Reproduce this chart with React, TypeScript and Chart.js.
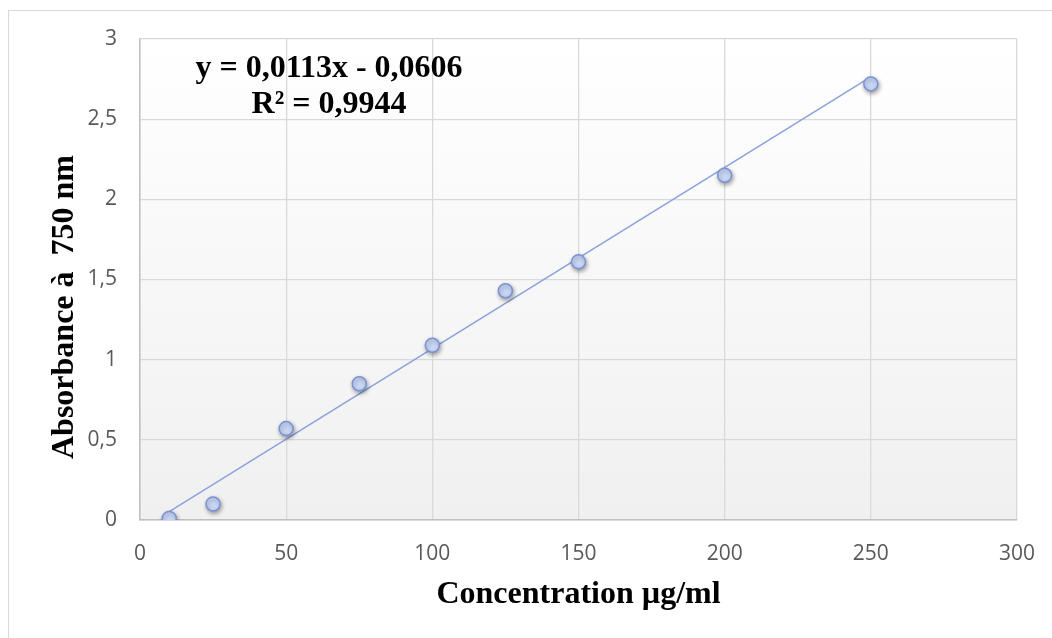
import React, { useEffect, useRef } from "react";
import { Chart, registerables } from "chart.js";

Chart.register(...registerables);

const CONCENTRATIONS = [10, 25, 50, 75, 100, 125, 150, 200, 250];
const ABSORBANCES = [0.01, 0.1, 0.57, 0.85, 1.09, 1.43, 1.61, 2.15, 2.72];
const TREND_SLOPE = 0.0113;
const TREND_INTERCEPT = -0.0606;
const TREND_RANGE = [10, 250];
const X_TICKS = [0, 50, 100, 150, 200, 250, 300];
const Y_TICKS = [0, 0.5, 1, 1.5, 2, 2.5, 3];
const EQUATION_LINES = ["y = 0,0113x - 0,0606", "R² = 0,9944"];
const X_TITLE = "Concentration µg/ml";
const Y_TITLE = "Absorbance à  750 nm";

const SERIF = "'Liberation Serif', 'Times New Roman', serif";
const SANS = "'Open Sans', 'Noto Sans', sans-serif";

const plotBackground = {
  id: "plotBackground",
  beforeDraw(chart: any) {
    const { ctx, chartArea } = chart;
    if (!chartArea) return;
    const g = ctx.createLinearGradient(0, chartArea.top, 0, chartArea.bottom);
    g.addColorStop(0, "#ffffff");
    g.addColorStop(1, "#f0f0f0");
    ctx.save();
    ctx.fillStyle = g;
    ctx.fillRect(chartArea.left, chartArea.top, chartArea.right - chartArea.left, chartArea.bottom - chartArea.top);
    ctx.restore();
  },
};

const pointShadow = {
  id: "pointShadow",
  beforeDatasetDraw(chart: any, args: any) {
    if (args.index !== 0) return;
    const ctx = chart.ctx;
    ctx.save();
    ctx.shadowColor = "rgba(0,0,0,0.35)";
    ctx.shadowBlur = 4;
    ctx.shadowOffsetX = 1;
    ctx.shadowOffsetY = 2;
  },
  afterDatasetDraw(chart: any, args: any) {
    if (args.index !== 0) return;
    chart.ctx.restore();
  },
};

export default function App() {
  const canvasRef = useRef<HTMLCanvasElement | null>(null);

  useEffect(() => {
    const canvas = canvasRef.current;
    if (!canvas) return;
    const points = CONCENTRATIONS.map((x, i) => ({ x, y: ABSORBANCES[i] }));
    const trend = TREND_RANGE.map((x) => ({ x, y: TREND_SLOPE * x + TREND_INTERCEPT }));
    const chart = new Chart(canvas, {
      type: "scatter",
      data: {
        datasets: [
          {
            label: "Absorbance",
            data: points,
            pointRadius: 7,
            pointBackgroundColor: "#c9d7f7",
            pointBorderColor: "#7a92d3",
            pointBorderWidth: 1.5,
            showLine: false,
          },
          {
            label: "Trend",
            data: trend,
            showLine: true,
            borderColor: "#8aa2dc",
            borderWidth: 1.5,
            pointRadius: 0,
            fill: false,
          },
        ],
      },
      options: {
        responsive: false,
        animation: false,
        devicePixelRatio: 1,
        layout: { padding: { left: 0, top: 39, right: 35, bottom: 0 } },
        plugins: { legend: { display: false }, tooltip: { enabled: false } },
        scales: {
          x: {
            type: "linear",
            min: 0,
            max: 300,
            afterBuildTicks: (scale: any) => {
              scale.ticks = X_TICKS.map((v) => ({ value: v }));
            },
            afterFit: (scale: any) => {
              scale.height = 118;
              scale.paddingLeft = 0;
              scale.paddingRight = 0;
            },
            grid: { color: "#d9d9d9", lineWidth: 1.3, drawTicks: false },
            border: { color: "#bfbfbf", width: 1.5 },
            ticks: {
              padding: 21,
              color: "#595959",
              font: { family: SANS, size: 21 },
              callback: (v: any) => String(v),
            },
            title: {
              display: true,
              text: X_TITLE,
              color: "#000000",
              font: { family: SERIF, size: 32, weight: "bold" },
              padding: { top: 0, bottom: 24 },
            },
          },
          y: {
            type: "linear",
            min: 0,
            max: 3,
            afterBuildTicks: (scale: any) => {
              scale.ticks = Y_TICKS.map((v) => ({ value: v }));
            },
            afterFit: (scale: any) => {
              scale.width = 140;
              scale.paddingTop = 0;
              scale.paddingBottom = 0;
            },
            grid: { color: "#d9d9d9", lineWidth: 1.3, drawTicks: false },
            border: { color: "#bfbfbf", width: 1.5 },
            ticks: {
              padding: 23,
              color: "#595959",
              font: { family: SANS, size: 21 },
              callback: (v: any) => String(v).replace(".", ","),
            },
          },
        },
      },
      plugins: [plotBackground, pointShadow],
    });
    return () => chart.destroy();
  }, []);

  return (
    <div style={{ position: "fixed", left: 0, top: 0, width: 1052, height: 638, overflow: "hidden", background: "#ffffff" }}>
      <div
        style={{
          position: "absolute",
          left: 8,
          top: 10,
          width: 1100,
          height: 700,
          border: "1px solid #d9d9d9",
          boxSizing: "border-box",
        }}
      />
      <canvas ref={canvasRef} width={1052} height={638} style={{ position: "absolute", left: 0, top: 0 }} />
      <div
        style={{
          position: "absolute",
          left: 62,
          top: 307,
          transform: "translate(-50%, -50%) rotate(-90deg)",
          fontFamily: SERIF,
          fontWeight: "bold",
          fontSize: 32,
          lineHeight: "32px",
          whiteSpace: "pre",
          color: "#000",
        }}
      >
        {Y_TITLE}
      </div>
      {EQUATION_LINES.map((line, i) => (
        <div
          key={i}
          style={{
            position: "absolute",
            left: 329,
            top: i === 0 ? 50 : 86,
            transform: "translateX(-50%)",
            fontFamily: SERIF,
            fontWeight: "bold",
            fontSize: 32,
            lineHeight: "32px",
            whiteSpace: "pre",
            color: "#000",
          }}
        >
          {line}
        </div>
      ))}
    </div>
  );
}
